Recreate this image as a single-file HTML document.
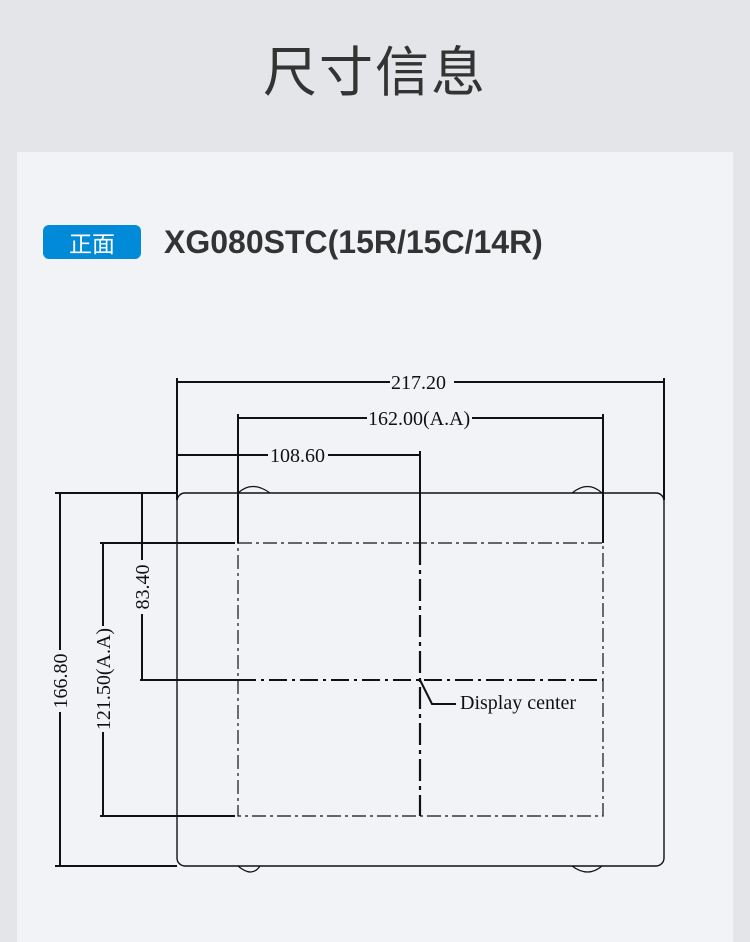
<!DOCTYPE html>
<html><head><meta charset="utf-8"><style>
html,body{margin:0;padding:0;width:750px;height:930px;background:#e4e5e9;overflow:hidden}
.t{position:absolute;left:0;width:750px;top:28px;text-align:center;font:400 54px "Noto Sans CJK SC",sans-serif;color:#333;letter-spacing:2px}
.p{position:absolute;left:17px;top:152px;width:716px;height:790px;background:#f2f3f7}
.b{position:absolute;left:43px;top:225px;width:98px;height:34px;border-radius:6px;background:#008ad7;color:#fff;font:23px "Noto Sans CJK SC",sans-serif;text-align:center;line-height:34px}
.h{position:absolute;left:164px;top:223px;font:bold 32px "Liberation Sans",sans-serif;color:#333;line-height:38px}
svg{position:absolute;left:0;top:0}
</style></head><body>
<div class="t">尺寸信息</div>
<div class="p"></div>
<div class="b">正面</div>
<div class="h">XG080STC(15R/15C/14R)</div>
<svg width="750" height="930" font-family="Liberation Serif,serif" font-size="20" fill="#111">
<g stroke="#111" fill="none" stroke-width="2">
<rect x="177" y="493" width="487" height="373" rx="8" stroke-width="1.4"/>
<line x1="177" y1="378" x2="177" y2="500"/>
<line x1="664" y1="378" x2="664" y2="500"/>
<line x1="238" y1="414" x2="238" y2="543"/>
<line x1="603" y1="414" x2="603" y2="543"/>
<line x1="420" y1="451" x2="420" y2="543"/>
<line x1="177" y1="382" x2="390" y2="382"/><line x1="454" y1="382" x2="664" y2="382"/>
<line x1="238" y1="418" x2="367" y2="418"/><line x1="472" y1="418" x2="603" y2="418"/>
<line x1="177" y1="455" x2="268" y2="455"/><line x1="328" y1="455" x2="420" y2="455"/>
<line x1="55" y1="493" x2="177" y2="493"/><line x1="55" y1="866" x2="177" y2="866"/>
<line x1="100" y1="543" x2="235" y2="543"/><line x1="100" y1="816" x2="235" y2="816"/>
<line x1="140" y1="680" x2="238" y2="680"/>
<line x1="60" y1="493" x2="60" y2="650"/><line x1="60" y1="712" x2="60" y2="866"/>
<line x1="103" y1="543" x2="103" y2="626"/><line x1="103" y1="732" x2="103" y2="816"/>
<line x1="142" y1="493" x2="142" y2="560"/><line x1="142" y1="614" x2="142" y2="680"/>
<path d="M238 543H603V816H238Z" stroke-width="1.2" stroke-dasharray="14 4 3 4"/>
<line x1="238" y1="680" x2="603" y2="680" stroke-dasharray="18 5 3 5"/>
<line x1="420" y1="543" x2="420" y2="816" stroke-width="2.2" stroke-dasharray="22 5 4 5"/>
<path d="M420 680 L432 704 H456"/>
<path d="M238 493 Q252 480 270 493 M572 493 Q588 480 602 493 M238 866 Q252 878 260 866 M572 866 Q588 878 602 866" stroke-width="1.2"/>
</g>
<text x="391" y="389">217.20</text>
<text x="368" y="425">162.00(A.A)</text>
<text x="270" y="462">108.60</text>
<text x="460" y="709">Display center</text>
<text transform="translate(67,681) rotate(-90)" text-anchor="middle">166.80</text>
<text transform="translate(110,679) rotate(-90)" text-anchor="middle">121.50(A.A)</text>
<text transform="translate(149,587) rotate(-90)" text-anchor="middle">83.40</text>
</svg>
</body></html>
